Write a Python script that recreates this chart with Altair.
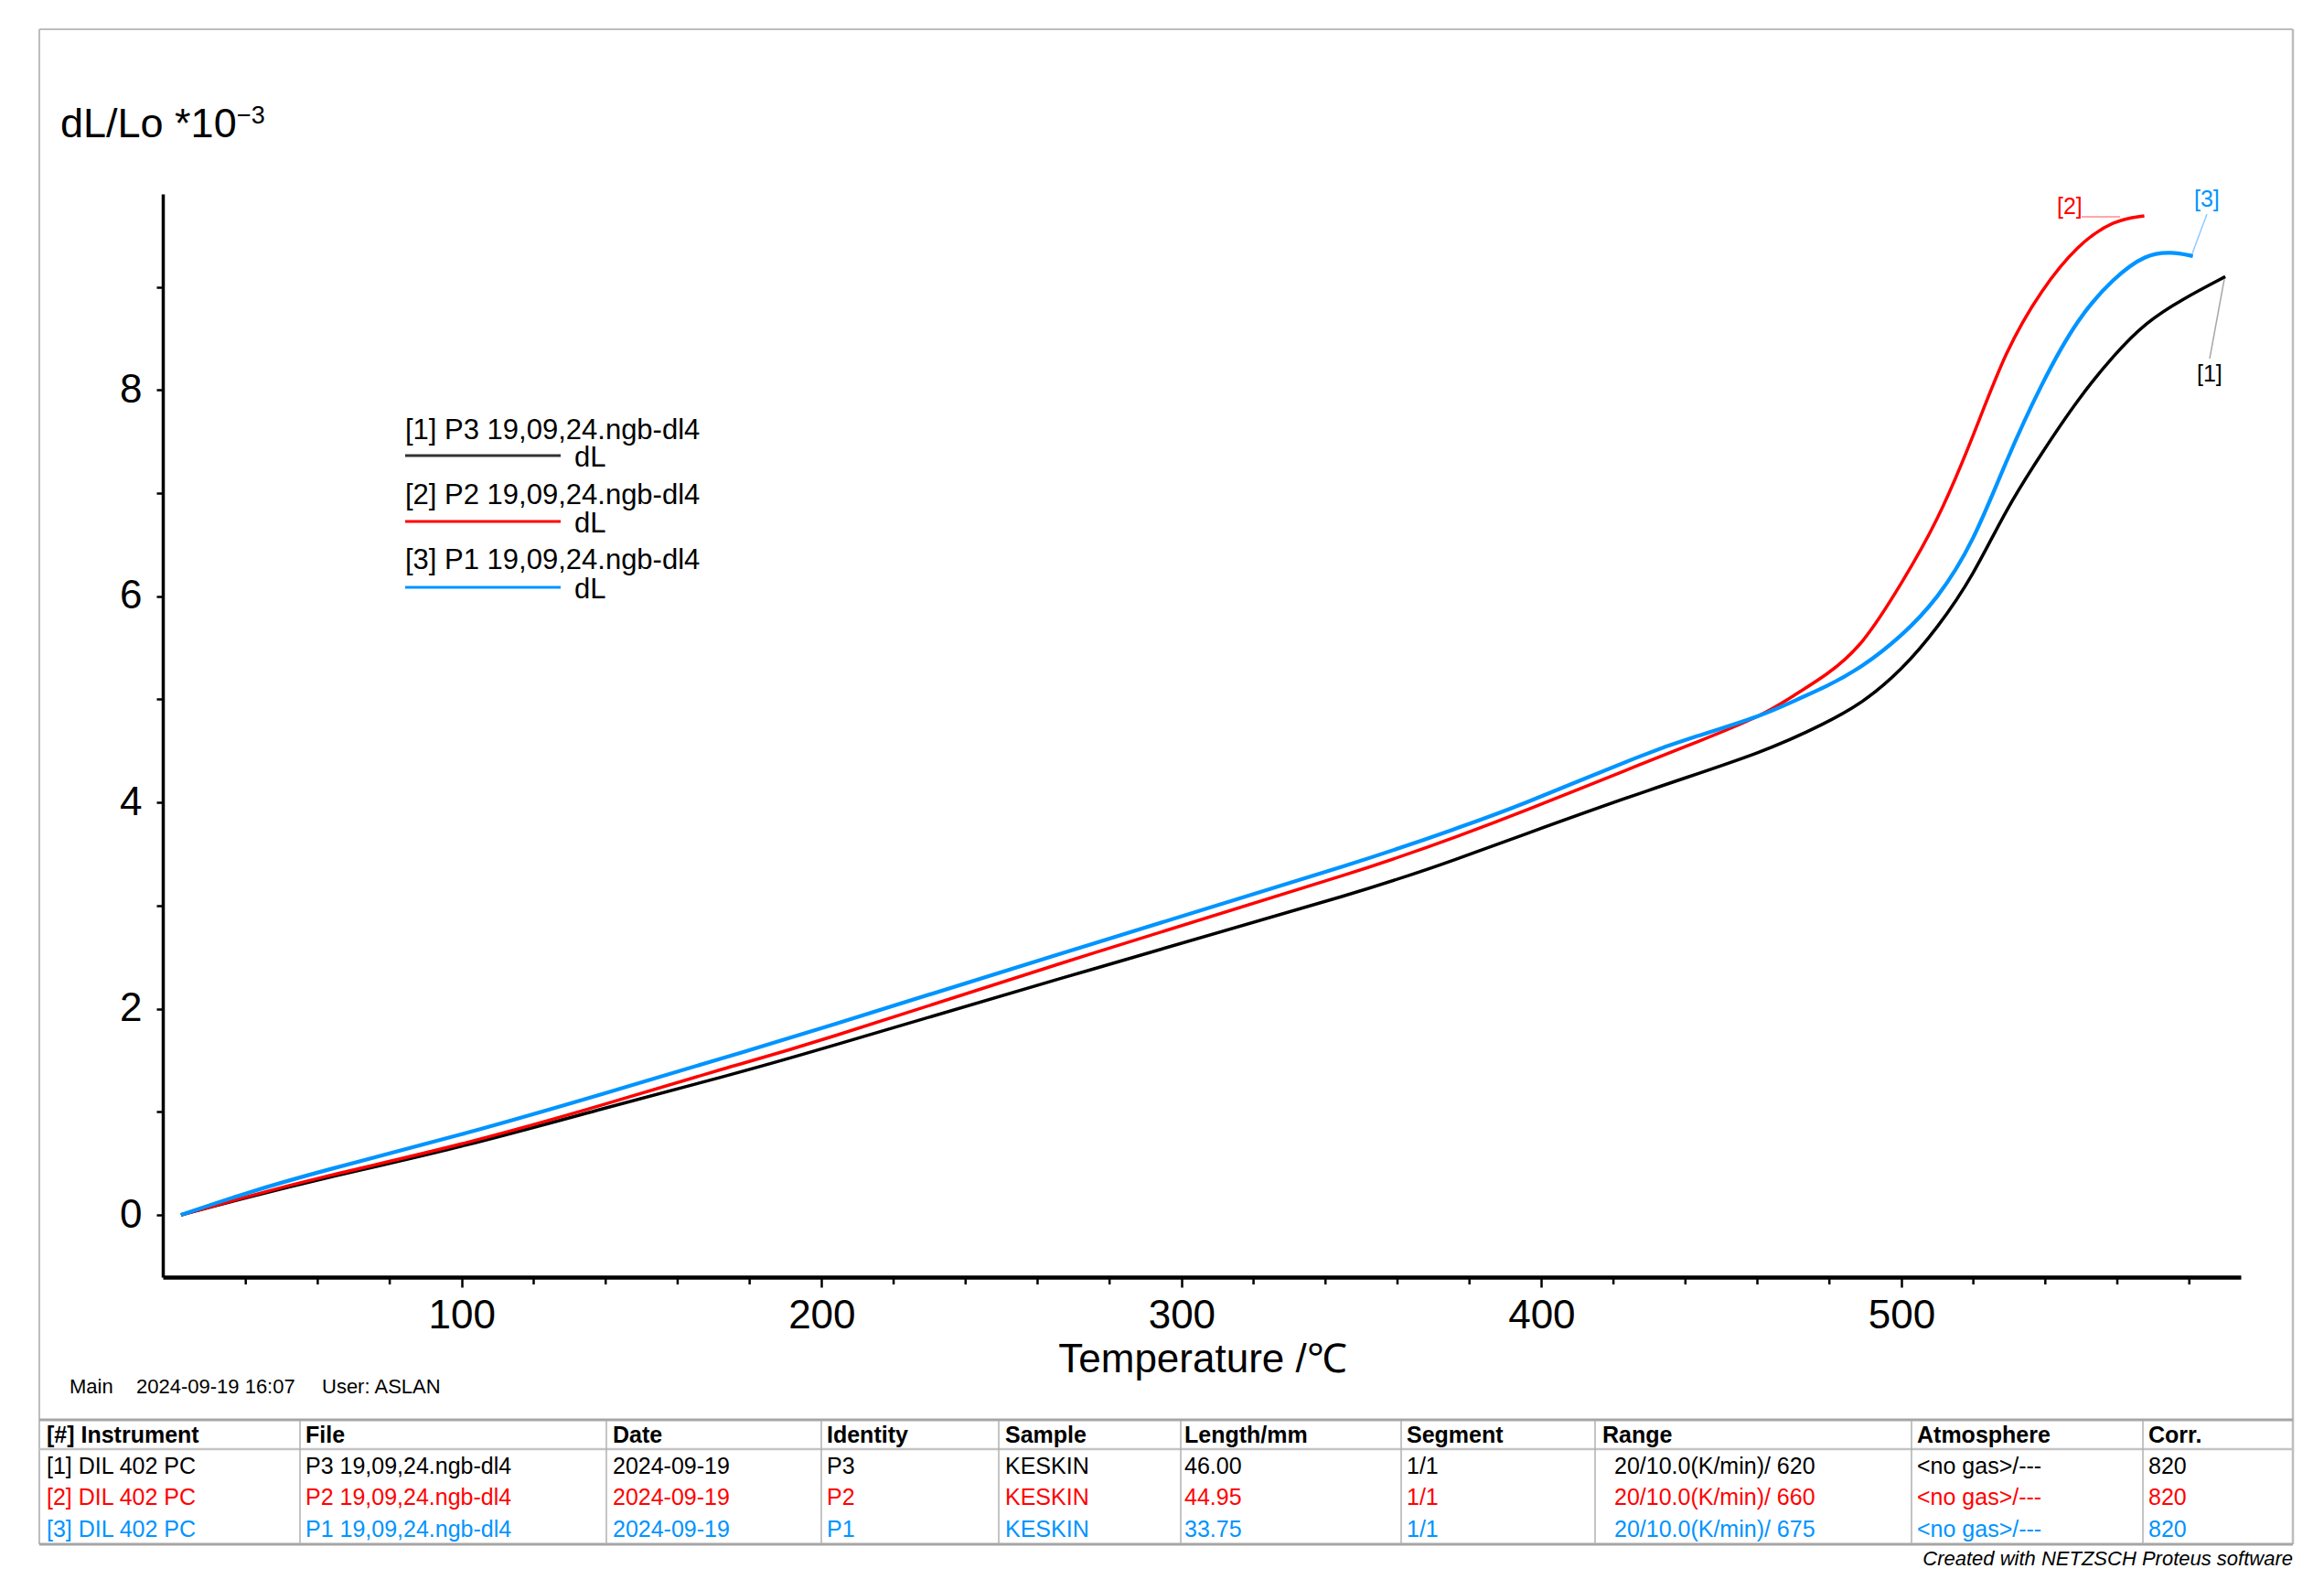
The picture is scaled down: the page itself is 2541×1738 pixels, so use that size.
import altair as alt
import pandas as pd

# ---------------- data ----------------
T_black = [22, 40, 60, 100, 140, 175, 193, 277, 353, 378, 392, 431, 462, 479, 489,
           500, 510, 520, 529, 539, 549, 559, 568, 578, 590]
V_black = [0.00, 0.166, 0.343, 0.656, 1.04, 1.362, 1.535, 2.407, 3.162, 3.47, 3.65, 4.14,
           4.49, 4.77, 4.96, 5.28, 5.69, 6.20, 6.84, 7.39, 7.91, 8.34, 8.66, 8.88, 9.10]

T_red = [22, 40, 60, 100, 140, 175, 193, 277, 353, 378, 392, 431, 442, 462, 471, 479,
         489, 500, 510, 520, 529, 539, 549, 559, 567.5]
V_red = [0.00, 0.175, 0.361, 0.677, 1.071, 1.446, 1.609, 2.567, 3.369, 3.688, 3.87, 4.419,
         4.57, 4.85, 5.06, 5.23, 5.51, 6.12, 6.72, 7.55, 8.39, 8.98, 9.41, 9.65, 9.69]

T_blue = [22, 40, 60, 100, 140, 175, 193, 277, 353, 378, 392, 431, 442, 462, 471, 479,
          489, 500, 510, 520, 529, 539, 549, 559, 568, 575, 581]
V_blue = [0.00, 0.213, 0.417, 0.775, 1.18, 1.548, 1.733, 2.653, 3.458, 3.77, 3.94, 4.508,
          4.63, 4.85, 5.00, 5.12, 5.31, 5.61, 5.97, 6.52, 7.31, 8.07, 8.70, 9.09, 9.32,
          9.34, 9.30]

series_ids = ["[1]", "[2]", "[3]"]
legend_names = ["[1] P3 19,09,24.ngb-dl4", "[2] P2 19,09,24.ngb-dl4", "[3] P1 19,09,24.ngb-dl4"]
x_major = [100, 200, 300, 400, 500]
x_minor = [40, 60, 80, 120, 140, 160, 180, 220, 240, 260, 280, 320, 340, 360, 380,
           420, 440, 460, 480, 520, 540, 560, 580]
y_ticks = [0, 1, 2, 3, 4, 5, 6, 7, 8, 9]

table_header = ["[#] Instrument", "File", "Date", "Identity", "Sample", "Length/mm",
                "Segment", "Range", "Atmosphere", "Corr."]
table_rows = [
    ["[1] DIL 402 PC", "P3 19,09,24.ngb-dl4", "2024-09-19", "P3", "KESKIN", "46.00", "1/1",
     "20/10.0(K/min)/ 620", "<no gas>/---", "820"],
    ["[2] DIL 402 PC", "P2 19,09,24.ngb-dl4", "2024-09-19", "P2", "KESKIN", "44.95", "1/1",
     "20/10.0(K/min)/ 660", "<no gas>/---", "820"],
    ["[3] DIL 402 PC", "P1 19,09,24.ngb-dl4", "2024-09-19", "P1", "KESKIN", "33.75", "1/1",
     "20/10.0(K/min)/ 675", "<no gas>/---", "820"],
]

# ---------------- styling / layout ----------------
FONT = "Liberation Sans"
BLACK, RED, BLUE = "#000000", "#ff0000", "#0094ff"
COLORS = [BLACK, RED, BLUE]

OX, OY = 178, 212          # page position of plot origin
W, H = 2272, 1184           # plot area

def X(px):
    return px - OX

def Y(py):
    return py - OY

def txt(s, px, py, size, color=BLACK, align="left", baseline="middle",
        weight="normal", style="normal"):
    return alt.Chart(alt.Data(values=[{"t": s}])).mark_text(
        align=align, baseline=baseline, fontSize=size, font=FONT, color=color,
        fontWeight=weight, fontStyle=style
    ).encode(x=alt.value(X(px)), y=alt.value(Y(py)), text="t:N")

def rule(x1, y1, x2, y2, color, w):
    return alt.Chart(alt.Data(values=[{"a": 1}])).mark_rule(
        color=color, strokeWidth=w
    ).encode(x=alt.value(X(x1)), y=alt.value(Y(y1)),
             x2=alt.value(X(x2)), y2=alt.value(Y(y2)))

xscale = alt.Scale(domain=[16.95, 594.3], nice=False, zero=False)
yscale = alt.Scale(domain=[-0.603, 9.902], nice=False, zero=False)

xaxis = alt.Axis(
    values=x_major, title=None, grid=False,
    labelFont=FONT, labelFontSize=44, labelColor=BLACK, labelPadding=9,
    tickSize=11, tickWidth=2.5, tickColor=BLACK, domainColor=BLACK, domainWidth=4.5,
    labelFlush=False, labelOverlap=False,
)
yaxis = alt.Axis(
    values=y_ticks, title=None, grid=False,
    labelExpr="datum.value % 2 == 0 ? datum.label : ''",
    labelFont=FONT, labelFontSize=44, labelColor=BLACK, labelPadding=16,
    tickSize=7, tickWidth=2.5, tickColor=BLACK, domainColor=BLACK, domainWidth=3.5,
    labelFlush=False, labelOverlap=False,
)

def curve(T, V, color, width):
    df = pd.DataFrame({"T": T, "v": V})
    return alt.Chart(df).mark_line(
        color=color, strokeWidth=width, interpolate="basis", clip=False
    ).encode(x=alt.X("T:Q", scale=xscale, axis=xaxis),
             y=alt.Y("v:Q", scale=yscale, axis=yaxis))

layers = [
    curve(T_black, V_black, BLACK, 3.5),
    curve(T_red, V_red, RED, 3.5),
    curve(T_blue, V_blue, BLUE, 4.2),
]

# minor ticks on the x axis (through the x scale)
layers.append(
    alt.Chart(pd.DataFrame({"T": x_minor})).mark_rule(color=BLACK, strokeWidth=2.5).encode(
        x=alt.X("T:Q", scale=xscale, axis=xaxis),
        y=alt.value(H), y2=alt.value(H + 8),
    )
)

# axis titles
layers.append(txt("dL/Lo *10", 66, 150, 45, baseline="alphabetic"))
layers.append(txt("\u22123", 259, 135, 27, baseline="alphabetic"))
layers.append(txt("Temperature /\u2103", 1315, 1500, 44, align="center", baseline="alphabetic"))

# legend block
leg_text_base = [480, 551, 622]
leg_line_y = [498, 570, 642]
for name, c, tb, ly in zip(legend_names, COLORS, leg_text_base, leg_line_y):
    layers.append(txt(name, 443, tb, 31, baseline="alphabetic"))
    layers.append(rule(443, ly, 613, ly, "#333333" if c == BLACK else c, 3))
    layers.append(txt("dL", 628, ly + 12, 31, baseline="alphabetic"))

# end labels with leader lines
layers.append(rule(2276, 237, 2318, 237, "#ff8c8c", 1.5))
layers.append(rule(2413, 234, 2397, 277, "#8fcbff", 1.5))
layers.append(rule(2416, 392, 2432, 305, "#a8a8a8", 1.5))
layers.append(txt(series_ids[1], 2249, 226, 25, color=RED))
layers.append(txt(series_ids[2], 2399, 218, 25, color=BLUE))
layers.append(txt(series_ids[0], 2402, 409, 25, color=BLACK))

# info line
layers.append(txt("Main", 76, 1516, 22))
layers.append(txt("2024-09-19 16:07", 149, 1516, 22))
layers.append(txt("User: ASLAN", 352, 1516, 22))

# outer frame
FR_L, FR_R, FR_T, FR_B = 43, 2507, 32, 1688
frame_c = "#bdbdbd"
layers.append(rule(FR_L, FR_T, FR_R, FR_T, frame_c, 2))
layers.append(rule(FR_L, FR_T, FR_L, FR_B, frame_c, 2))
layers.append(rule(FR_R, FR_T, FR_R, FR_B, frame_c, 2.5))

# table lines
layers.append(rule(FR_L, 1552, FR_R, 1552, "#a6a6a6", 3))
layers.append(rule(FR_L, 1584, FR_R, 1584, "#c4c4c4", 2.5))
layers.append(rule(FR_L, 1688, FR_R, 1688, "#a6a6a6", 3))
for sx in [328, 663, 898, 1092, 1291, 1532, 1744, 2090, 2343]:
    layers.append(rule(sx, 1553, sx, 1688, "#b0b0b0", 1.5))

# table text
col_x_head = [51, 334, 670, 904, 1099, 1295, 1538, 1752, 2096, 2349]
col_x_vals = [51, 334, 670, 904, 1099, 1295, 1538, 1765, 2096, 2349]
row_y = [1603, 1637, 1672]
for h, cx in zip(table_header, col_x_head):
    layers.append(txt(h, cx, 1569, 25, weight="bold"))
for row, ry, c in zip(table_rows, row_y, COLORS):
    for v, cx in zip(row, col_x_vals):
        layers.append(txt(v, cx, ry, 25, color=c))

layers.append(txt("Created with NETZSCH Proteus software", 2507, 1704, 22,
                  align="right", style="italic"))

chart = alt.layer(*layers).properties(
    width=W, height=H,
    autosize=alt.AutoSizeParams(type="none"),
    padding={"left": OX - 8, "top": OY - 8, "right": 80, "bottom": 330},
    background="white",
).configure(font=FONT).configure_view(strokeWidth=0)

chart.save("out.html", embed_options={"renderer": "svg", "actions": False})
